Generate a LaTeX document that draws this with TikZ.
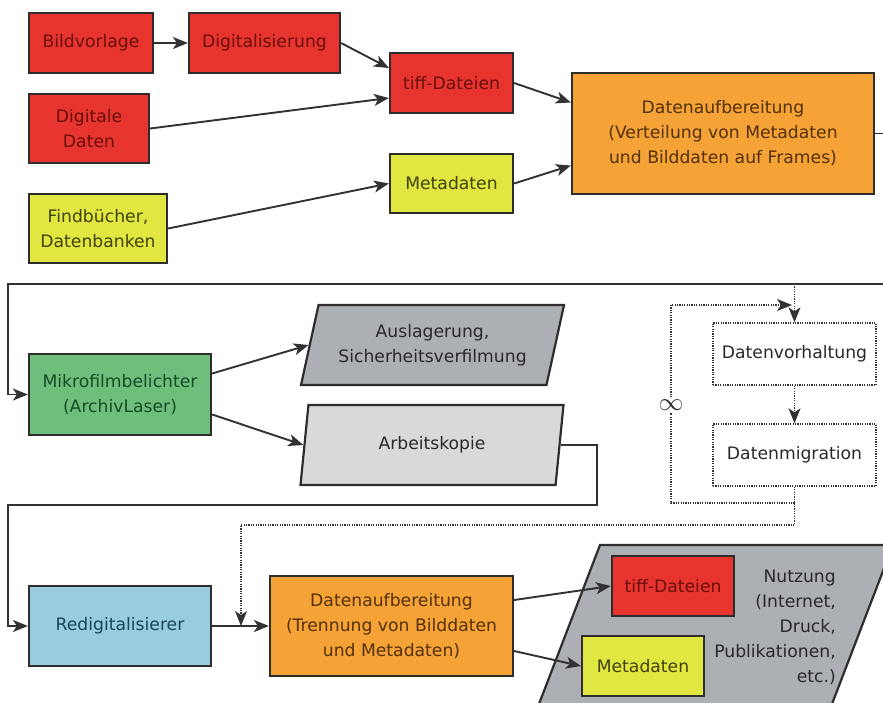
\documentclass[tikz,border=0pt]{standalone}
\usepackage{fontspec}
\setmainfont{DejaVu Sans}
\usetikzlibrary{arrows.meta}
\usetikzlibrary{shapes.geometric}

\definecolor{redfill}{RGB}{232,52,46}
\definecolor{redtext}{RGB}{105,16,12}
\definecolor{orangefill}{RGB}{245,163,55}
\definecolor{orangetext}{RGB}{85,48,8}
\definecolor{yellowfill}{RGB}{226,230,64}
\definecolor{yellowtext}{RGB}{65,66,10}
\definecolor{greenfill}{RGB}{112,190,124}
\definecolor{greentext}{RGB}{20,76,38}
\definecolor{bluefill}{RGB}{152,204,222}
\definecolor{bluetext}{RGB}{26,68,88}
\definecolor{grayfill}{RGB}{172,175,180}
\definecolor{lightfill}{RGB}{217,217,217}
\definecolor{graytext}{RGB}{40,40,45}
\definecolor{boxline}{RGB}{45,45,45}
\definecolor{wireline}{RGB}{50,50,50}

\begin{document}
\begin{tikzpicture}[x=1pt,y=-1pt,
font=\fontsize{17.2pt}{25pt}\selectfont,
>={Stealth[length=15pt,width=12pt,inset=4pt]},
wire/.style={draw=wireline,line width=1.9pt},
dots/.style={draw=wireline,line width=1.4pt,dash pattern=on 1.2pt off 1.2pt},
box/.style={draw=boxline,rectangle,line width=2.2pt,align=center,inner sep=2pt},
redbox/.style={box,fill=redfill,text=redtext},
orangebox/.style={box,fill=orangefill,text=orangetext},
yellowbox/.style={box,fill=yellowfill,text=yellowtext},
greenbox/.style={box,fill=greenfill,text=greentext},
bluebox/.style={box,fill=bluefill,text=bluetext},
storebox/.style={box,trapezium,trapezium left angle=69,trapezium right angle=111,trapezium stretches body=true,text=graytext},
dotbox/.style={draw=wireline,rectangle,line width=1.4pt,dash pattern=on 1.2pt off 1.2pt,text=graytext,minimum width=163pt,minimum height=62pt}]

\useasboundingbox (0,0) rectangle (883,702);
\clip (0,0) rectangle (883,702);

% Erfassung
\draw (91,43) node[redbox,minimum width=124pt,minimum height=60pt] (bild) {Bildvorlage};
\draw (264.5,43) node[redbox,minimum width=151pt,minimum height=60pt] (digi) {Digitalisierung};
\draw (89,128.5) node[redbox,minimum width=120pt,minimum height=69pt] (digdat) {Digitale\\Daten};
\draw (98,228.5) node[yellowbox,minimum width=138pt,minimum height=69pt] (find) {Findbücher,\\Datenbanken};
\draw (451.5,83) node[redbox,minimum width=123pt,minimum height=60pt] (tiffa) {tiff-Dateien};
\draw (451.5,183.5) node[yellowbox,minimum width=123pt,minimum height=59pt] (metaa) {Metadaten};
\draw (723,133.5) node[orangebox,minimum width=302pt,minimum height=121pt] (aufba) {Datenaufbereitung\\(Verteilung von Metadaten\\und Bilddaten auf Frames)};

\draw[wire,->] (bild.east) -- (digi.west);
\draw[wire,->] (digi.east) -- ([yshift=15pt]tiffa.west);
\draw[wire,->] (digdat.east) -- ([yshift=-15pt]tiffa.west);
\draw[wire,->] (find.east) -- (metaa.west);
\draw[wire,->] (tiffa.east) -- ([yshift=31pt]aufba.west);
\draw[wire,->] (metaa.east) -- ([yshift=-32pt]aufba.west);

% Belichtung
\draw (120,394.5) node[greenbox,minimum width=182pt,minimum height=81pt] (mikro) {Mikrofilmbelichter\\(ArchivLaser)};
\draw (432.5,345) node[storebox,fill=grayfill,minimum width=263pt,minimum height=80pt] (ausl) {Auslagerung,\\Sicherheitsverfilmung};
\draw (432,445) node[storebox,fill=lightfill,minimum width=263pt,minimum height=80pt] (arbk) {Arbeitskopie};

\draw[wire,->] (aufba.east) -- ++(20,0) |- (8,284) |- (mikro.west);
\draw[wire,->] ([yshift=21pt]mikro.east) -- (ausl.west);
\draw[wire,->] ([yshift=-20pt]mikro.east) -- (arbk.west);

% Datenhaltung
\draw (794.5,354) node[dotbox] (vorh) {Datenvorhaltung};
\draw (794.5,455) node[dotbox] (migr) {Datenmigration};
\draw (671,405) node[font=\fontsize{25pt}{25pt}\selectfont,text=graytext,inner sep=2pt] (inf) {$\infty$};
\coordinate (tapa) at (794.5,284);
\coordinate (tapb) at (241,626);

\draw[dots,->] (tapa) -- (vorh.north);
\draw[dots,->] (vorh.south) -- (migr.north);
\draw[dots] (migr.south |- 0,503) -| (inf.south);
\draw[dots,->] (inf.north) |- (792,305);
\draw[dots,->] (migr.south) |- (tapb |- 0,525) -- (tapb);

% Nutzung
\draw[draw=boxline,line width=2.2pt,fill=grayfill] (600,545) -- (893,545) -- (822,730) -- (529,730) -- cycle;
\draw (836,627) node[anchor=east,align=right,text=graytext,inner sep=0pt] (nutzlbl) {Nutzung\\(Internet,\\Druck,\\Publikationen,\\etc.)};
\draw (120,626) node[bluebox,minimum width=182pt,minimum height=80pt] (redig) {Redigitalisierer};
\draw (391.5,626) node[orangebox,minimum width=243pt,minimum height=100pt] (aufbb) {Datenaufbereitung\\(Trennung von Bilddaten\\und Metadaten)};
\draw (673,586) node[redbox,minimum width=122pt,minimum height=60pt] (tiffb) {tiff-Dateien};
\draw (643,666) node[yellowbox,minimum width=122pt,minimum height=60pt] (metab) {Metadaten};

\draw[wire,->] (arbk.east) -- ++(36,0) |- (8,505) |- (redig.west);
\draw[wire,->] (redig.east) -- (aufbb.west);
\draw[wire,->] ([yshift=26pt]aufbb.east) -- (tiffb.west);
\draw[wire,->] ([yshift=-25pt]aufbb.east) -- (metab.west);
\end{tikzpicture}
\end{document}
